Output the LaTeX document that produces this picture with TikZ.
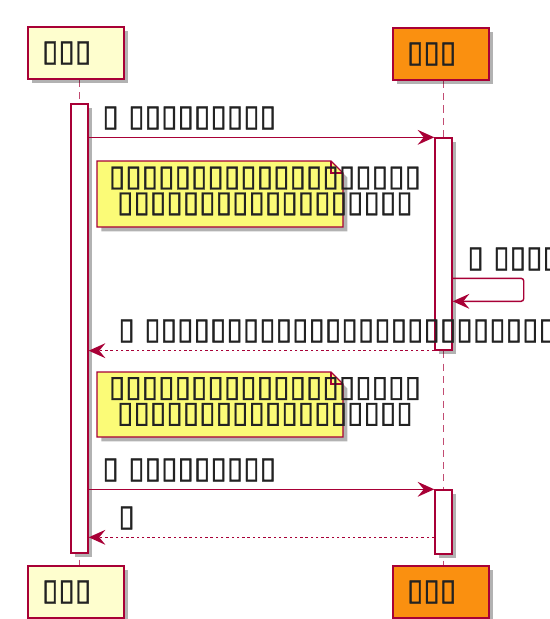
\documentclass[tikz,border=0pt]{standalone}
\usepackage{fontspec}
\usepackage{xcolor}
\usepackage{tikz}
\usetikzlibrary{
  arrows.meta,
  calc,
  backgrounds,
  shadows
}
\newfontfamily\tofu[FakeBold=1.2]{DejaVu Sans}
\definecolor{umlRed}{HTML}{A80036}
\definecolor{umlActor}{HTML}{FEFECE}
\definecolor{umlOrange}{HTML}{FA9010}
\definecolor{umlNote}{HTML}{FBFB77}
\definecolor{umlText}{HTML}{222222}
\tikzset{
  umlshadow/.style={drop shadow={shadow xshift=2.5pt, shadow yshift=-2.5pt, fill=black, opacity=0.3}},
  tofutext/.style={font=\tofu\fontsize{17}{14.7}\selectfont, text=umlText},
  actor/.style={
    draw=umlRed, fill=umlActor, line width=1pt, umlshadow, tofutext,
    minimum width=1.92cm, minimum height=1.04cm, text width=1.36cm,
    inner xsep=0.28cm, align=left
  },
  actbar/.style={draw=umlRed, fill=white, line width=0.8pt, umlshadow,
    minimum width=0.34cm, inner sep=0pt},
  lifeline/.style={umlRed!70, line width=0.9pt, dash pattern=on 4pt off 3pt},
  msg/.style={-{Stealth[length=9.5pt, width=8.5pt, inset=3.5pt]}, umlRed, line width=0.8pt},
  reply/.style={msg, dash pattern=on 1.4pt off 1.6pt},
  msglabel/.style={tofutext, anchor=west, inner sep=0pt},
  notebox/.style={draw=umlRed, fill=umlNote, line width=0.8pt, umlshadow},
  notetext/.style={tofutext, align=center, inner sep=0pt}
}
\begin{document}
\begin{tikzpicture}[x=0.02cm, y=-0.02cm]
  \useasboundingbox (0,0) rectangle (550,619);
  \clip (0,0) rectangle (550,619);

  % participants
  \node[actor] (userTop) at (76,53) {▯▯▯};
  \node[actor, fill=umlOrange] (sysTop) at (441,54) {▯▯▯};
  \node[actor] (userBot) at (76,592) {▯▯▯};
  \node[actor, fill=umlOrange] (sysBot) at (441,592) {▯▯▯};

  % activations
  \node[actbar, minimum height=8.98cm] (actUser) at (79.5,328.5) {};
  \node[actbar, minimum height=4.24cm] (actSys1) at (443.5,244) {};
  \node[actbar, minimum height=1.28cm] (actSys2) at (443.5,522) {};

  \begin{scope}[on background layer]
    \draw[lifeline] (userTop.south -| actUser) -- (userBot.north -| actUser);
    \draw[lifeline] (sysTop.south -| actSys1) -- (sysBot.north -| actSys1);
  \end{scope}

  % first request
  \draw[msg] (actUser.east |- actSys1.north) -- (actSys1.north west);
  \node[msglabel] (lblReq1) at (102,118) {▯ ▯▯▯▯▯▯▯▯▯};

  \path[notebox] (97,161) -- (331,161) -- (343,173) -- (343,227) -- (97,227) -- cycle;
  \draw[umlRed, line width=0.8pt] (331,161) |- (343,173);
  \node[notetext] (noteTxt1) at (265,191)
    {▯▯▯▯▯▯▯▯▯▯▯▯▯▯▯▯▯▯▯\\▯▯▯▯▯▯▯▯▯▯▯▯▯▯▯▯▯▯};

  % self call
  \draw[msg, rounded corners=1.5pt] ($(actSys1.north east)+(0,141)$) -- ++(71,0)
    |- ($(actSys1.north east)+(0,164)$);
  \node[msglabel] (lblSelf) at (467,259) {▯ ▯▯▯▯▯▯▯▯};

  \draw[reply] (actSys1.south west) -- (actUser.east |- actSys1.south);
  \node[msglabel] (lblRet1) at (118,331) {▯ ▯▯▯▯▯▯▯▯▯▯▯▯▯▯▯▯▯▯▯▯▯▯▯▯▯▯▯▯▯};

  % second request
  \path[notebox] (97,372) -- (331,372) -- (343,384) -- (343,437) -- (97,437) -- cycle;
  \draw[umlRed, line width=0.8pt] (331,372) |- (343,384);
  \node[notetext] (noteTxt2) at (265,401.5)
    {▯▯▯▯▯▯▯▯▯▯▯▯▯▯▯▯▯▯▯\\▯▯▯▯▯▯▯▯▯▯▯▯▯▯▯▯▯▯};

  \draw[msg] (actUser.east |- actSys2.north) -- (actSys2.north west);
  \node[msglabel] (lblReq2) at (102,470) {▯ ▯▯▯▯▯▯▯▯▯};

  \draw[reply] ($(actSys2.north west)+(0,48)$) -- ($(actUser.east |- actSys2.north)+(0,48)$);
  \node[msglabel] (lblRet2) at (118,518) {▯};
\end{tikzpicture}
\end{document}
